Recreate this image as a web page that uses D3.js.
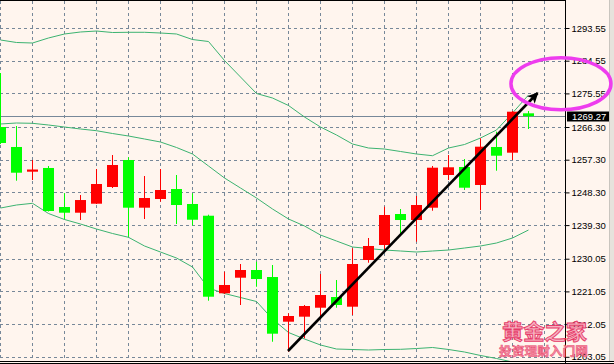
<!DOCTYPE html>
<html>
<head>
<meta charset="utf-8">
<script src="https://cdn.jsdelivr.net/npm/d3@7"></script>
<style>
html,body{margin:0;padding:0;background:#fff5ee;}
svg{display:block;}
</style>
</head>
<body>
<svg id="chart" width="614" height="364"></svg>
<script>
// ---- data ----
const candleIndex = d3.range(0, 34);
const openVals  = [1266.30,1260.80,1254.00,1255.02,1244.28,1242.71,1245.19,1249.79,1257.22,1244.09,1246.48,1249.23,1245.11,1241.88,1220.53,1224.82,1226.94,1225.01,1212.71,1214.09,1216.56,1219.51,1216.84,1229.69,1233.82,1242.35,1240.70,1244.09,1253.09,1255.29,1250.34,1260.80,1259.23,1270.07];
const highVals  = [1281.16,1266.58,1257.22,1255.57,1248.05,1247.58,1254.74,1258.59,1257.96,1252.81,1254.74,1253.09,1248.05,1242.16,1226.47,1228.59,1229.22,1228.32,1215.02,1217.30,1225.84,1224.19,1232.91,1235.75,1244.36,1243.73,1247.31,1255.57,1258.59,1257.49,1263.19,1265.01,1270.70,1270.70];
const lowVals   = [1261.60,1251.52,1251.71,1243.04,1240.98,1240.70,1245.11,1249.51,1236.11,1240.98,1245.74,1239.60,1239.19,1218.49,1220.33,1217.31,1222.34,1207.20,1204.45,1208.14,1213.37,1216.56,1214.55,1228.95,1232.64,1236.30,1234.73,1243.26,1251.71,1248.96,1243.46,1254.27,1257.22,1265.75];
const closeVals = [1261.90,1253.72,1254.60,1243.18,1242.71,1246.20,1250.61,1255.84,1244.09,1246.76,1248.96,1244.83,1240.78,1219.59,1222.81,1226.94,1224.46,1209.41,1214.28,1217.03,1220.06,1217.31,1228.59,1233.55,1242.08,1240.70,1244.83,1255.10,1255.21,1249.59,1260.88,1258.40,1270.51,1269.27];

const upperBand  = [1290.25,1289.56,1289.42,1290.80,1291.90,1292.45,1292.72,1292.31,1292.37,1292.37,1292.17,1291.90,1290.38,1289.83,1284.60,1280.06,1275.52,1274.28,1272.22,1269.05,1266.30,1264.10,1261.62,1260.52,1260.24,1259.56,1258.87,1258.40,1260.52,1261.48,1263.27,1265.47,1270.15,1275.11];
const middleBand = [1267.13,1267.40,1267.32,1266.85,1266.30,1265.75,1265.28,1264.51,1263.82,1263.00,1262.17,1260.66,1258.87,1255.57,1252.26,1249.51,1246.76,1243.73,1240.98,1239.05,1236.57,1234.92,1233.27,1232.86,1232.44,1232.17,1231.89,1232.17,1232.44,1232.99,1233.55,1234.37,1235.75,1237.95];
const lowerBand  = [1244.00,1244.83,1245.30,1242.49,1240.84,1239.60,1238.22,1236.99,1235.94,1233.55,1231.89,1230.24,1227.77,1221.98,1220.47,1219.37,1218.27,1213.45,1209.74,1207.95,1206.30,1205.19,1205.06,1204.92,1205.06,1205.11,1205.33,1205.61,1205.06,1204.37,1203.41,1202.58,1201.62,1200.79];

const tickValues = [1293.55,1284.55,1275.55,1266.30,1257.30,1248.30,1239.30,1230.05,1221.05,1212.05,1203.05];
const lastPrice = 1269.27;

// annotations (in data units: candle index, price)
const arrowFrom = [18, 1204.64];
const arrowTo   = [33.6, 1275.66];
const ellipseCenter = [35.06, 1278.22];
const ellipseRadius = [3.125, 7.16];

const watermarkTitle = "黄金之家";
const watermarkSub = "投资理财入门网";

// ---- layout ----
const W = 614, H = 364;
const plotRight = 566, plotTop = 1, plotBottom = 361;
const svg = d3.select("#chart");
const x = d3.scaleLinear().domain([0, 34]).range([0, 544]);
const y = d3.scaleLinear().domain([1203.05, 1293.55]).range([356.8, 28]);

svg.append("rect").attr("width", W).attr("height", H).attr("fill", "#fff5ee");

const defs = svg.append("defs");
defs.append("clipPath").attr("id", "plotClip")
  .append("rect").attr("x", 0).attr("y", plotTop).attr("width", plotRight).attr("height", plotBottom - plotTop);
defs.append("marker").attr("id", "arrowHead")
  .attr("viewBox", "0 0 10 10").attr("refX", 9).attr("refY", 5)
  .attr("markerWidth", 4.2).attr("markerHeight", 4.2).attr("markerUnits", "strokeWidth")
  .attr("orient", "auto")
  .append("path").attr("d", "M0,0 L10,5 L0,10 L2.5,5 Z").attr("fill", "#000");

const plot = svg.append("g").attr("clip-path", "url(#plotClip)");

// grid
const grid = plot.append("g").attr("stroke", "#778899").attr("stroke-width", 1).attr("stroke-dasharray", "3,3");
tickValues.forEach(v => {
  const yy = Math.round(y(v)) + 0.5;
  grid.append("line").attr("x1", 0).attr("x2", plotRight).attr("y1", yy).attr("y2", yy);
});
d3.range(0, 36, 2).forEach(i => {
  const xx = Math.round(x(i)) + 0.5;
  grid.append("line").attr("x1", xx).attr("x2", xx).attr("y1", plotTop).attr("y2", plotBottom);
});

// price line
const py = Math.round(y(lastPrice)) + 0.5;
plot.append("line").attr("x1", 0).attr("x2", plotRight).attr("y1", py).attr("y2", py)
  .attr("stroke", "#778899").attr("stroke-width", 1.2);

// bands
const bandLine = vals => d3.line().x((d, i) => x(candleIndex[i]) + 0.5).y(d => y(d))(vals);
[upperBand, middleBand, lowerBand].forEach(b => {
  plot.append("path").attr("d", bandLine(b)).attr("fill", "none")
    .attr("stroke", "#3cb371").attr("stroke-width", 1);
});

// candles
const candles = candleIndex.map(i => ({i, o: openVals[i], h: highVals[i], l: lowVals[i], c: closeVals[i]}));
const cg = plot.append("g");
candles.forEach(d => {
  const col = d.c >= d.o ? "#ff0000" : "#00ff00";
  const cx = Math.round(x(d.i));
  cg.append("rect").attr("x", cx).attr("width", 1)
    .attr("y", y(d.h)).attr("height", Math.max(1, y(d.l) - y(d.h))).attr("fill", col);
  const top = y(Math.max(d.o, d.c)), bot = y(Math.min(d.o, d.c));
  cg.append("rect").attr("x", cx - 5).attr("width", 11)
    .attr("y", top).attr("height", Math.max(2, bot - top)).attr("fill", col);
});

// arrow annotation
plot.append("line")
  .attr("x1", x(arrowFrom[0])).attr("y1", y(arrowFrom[1]))
  .attr("x2", x(arrowTo[0])).attr("y2", y(arrowTo[1]))
  .attr("stroke", "#000").attr("stroke-width", 2.6).attr("marker-end", "url(#arrowHead)");

// borders
svg.append("line").attr("x1", 0).attr("x2", plotRight).attr("y1", 0.5).attr("y2", 0.5).attr("stroke", "#000");
svg.append("line").attr("x1", plotRight - 0.5).attr("x2", plotRight - 0.5).attr("y1", 0).attr("y2", plotBottom + 2).attr("stroke", "#000");
svg.append("line").attr("x1", 0).attr("x2", W).attr("y1", 361.5).attr("y2", 361.5).attr("stroke", "#000");
svg.append("line").attr("x1", 0).attr("x2", W).attr("y1", 363.5).attr("y2", 363.5).attr("stroke", "#000");
svg.append("rect").attr("x", 610).attr("y", 0).attr("width", 4).attr("height", 361).attr("fill", "#e6e2dc");
svg.append("line").attr("x1", 609.5).attr("x2", 609.5).attr("y1", 0).attr("y2", 361).attr("stroke", "#c9c5bf");

// right axis
const axis = d3.axisRight(y).tickValues(tickValues).tickSize(4).tickPadding(2)
  .tickFormat(d3.format(".2f"));
const ag = svg.append("g").attr("transform", `translate(${plotRight - 0.5},0)`).call(axis);
ag.select(".domain").remove();
ag.selectAll(".tick line").attr("stroke", "#000");
ag.selectAll(".tick text").attr("fill", "#000").style("font-family", "'Liberation Sans', Arial, sans-serif").style("font-size", "9.5px");

// last price label
const lbl = svg.append("g");
lbl.append("rect").attr("x", 567).attr("y", Math.round(y(lastPrice)) - 4.5).attr("width", 42).attr("height", 10).attr("fill", "#000");
lbl.append("text").attr("x", 572).attr("y", y(lastPrice)).attr("dy", "0.35em")
  .attr("fill", "#fff").style("font-family", "'Liberation Sans', Arial, sans-serif").style("font-size", "9.5px")
  .text(d3.format(".2f")(lastPrice));

// ellipse annotation
svg.append("ellipse")
  .attr("cx", x(ellipseCenter[0])).attr("cy", y(ellipseCenter[1]))
  .attr("rx", x(ellipseRadius[0]) - x(0)).attr("ry", y(0) - y(ellipseRadius[1]) - (y(0) - y(0)))
  .attr("fill", "none").attr("stroke", "#ee3cee").attr("stroke-width", 3.5);

// watermark
svg.append("text").attr("x", 502).attr("y", 339)
  .style("font-family", "'Noto Sans CJK SC', sans-serif").style("font-size", "21px").style("font-weight", "bold")
  .attr("fill", "#f6b0c0").attr("stroke", "#e63a68").attr("stroke-width", 0.9)
  .attr("textLength", 85).attr("lengthAdjust", "spacingAndGlyphs")
  .text(watermarkTitle);
svg.append("text").attr("x", 499).attr("y", 356)
  .style("font-family", "'Noto Sans CJK SC', sans-serif").style("font-size", "12.5px").style("font-weight", "bold")
  .attr("fill", "#f48aa2").attr("stroke", "#e84a70").attr("stroke-width", 0.5)
  .attr("textLength", 89).attr("lengthAdjust", "spacingAndGlyphs")
  .text(watermarkSub);
</script>
</body>
</html>
